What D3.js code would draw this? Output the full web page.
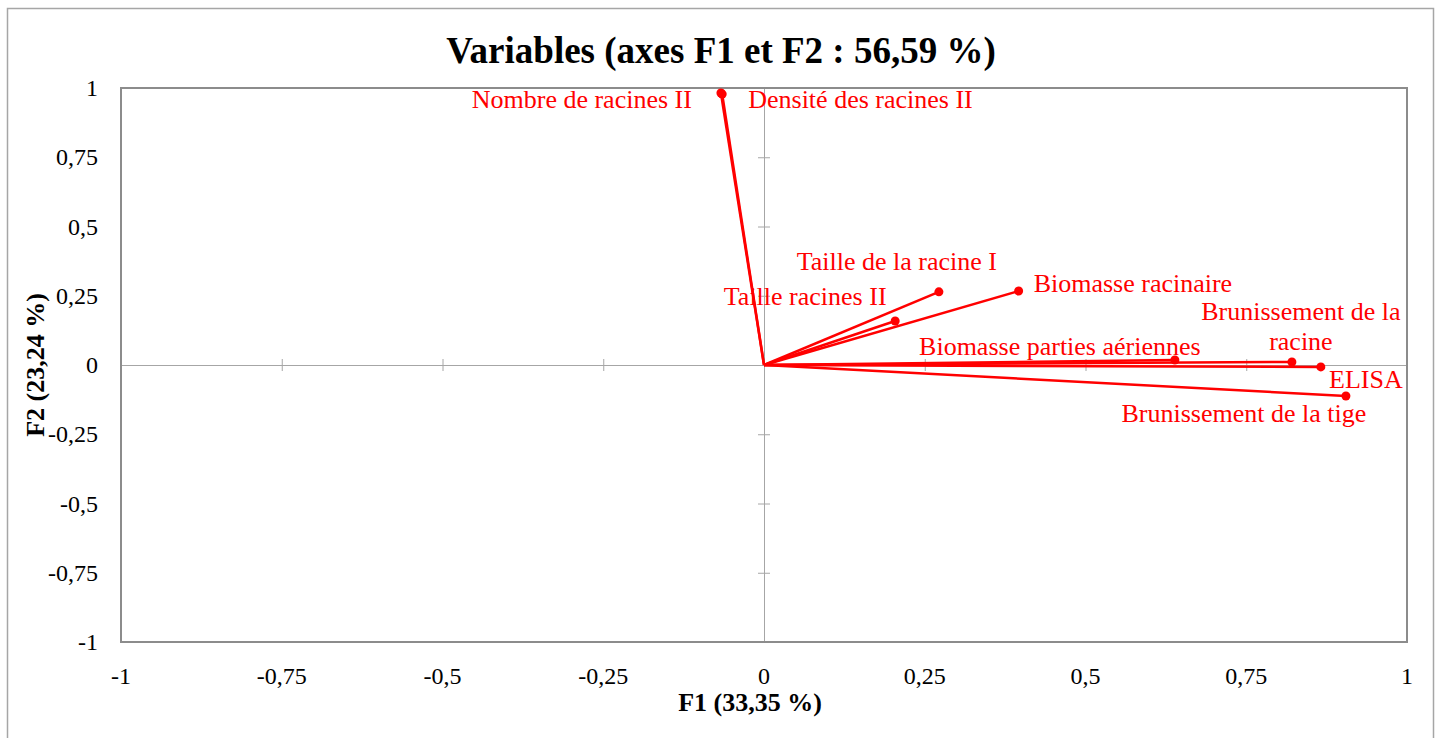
<!DOCTYPE html>
<html>
<head>
<meta charset="utf-8">
<script src="https://cdn.jsdelivr.net/npm/d3@7"></script>
<style>
  body { margin: 0; background: #fff; }
  svg { display: block; font-family: "Liberation Serif", "Times New Roman", serif; }
</style>
</head>
<body>
<svg></svg>
<script>
var width = 1440;
var height = 738;

// variables of the correlation circle
var variables = ['Nombre de racines II', 'Densité des racines II', 'Taille de la racine I',
                 'Biomasse racinaire', 'Taille racines II', 'Biomasse parties aériennes',
                 'Brunissement de la racine', 'ELISA', 'Brunissement de la tige'];
var f1 = [-0.067, -0.065, 0.272, 0.396, 0.204, 0.639, 0.821, 0.866, 0.905];
var f2 = [0.982, 0.978, 0.264, 0.267, 0.159, 0.018, 0.011, -0.007, -0.112];
var ticks = [-1, -0.75, -0.5, -0.25, 0, 0.25, 0.5, 0.75, 1];

// where each label sits relative to its point (text-anchor, dx, dy)
var labelPlace = {
  'Nombre de racines II': ['end', -29, 15],
  'Densité des racines II': ['start', 26, 14],
  'Taille de la racine I': ['middle', -42, -22],
  'Biomasse racinaire': ['start', 15, 1],
  'Taille racines II': ['middle', -90, -16],
  'Biomasse parties aériennes': ['middle', -115, -5],
  'Brunissement de la racine': ['middle', 9, -42],
  'ELISA': ['middle', 45, 21],
  'Brunissement de la tige': ['middle', -102, 26]
};

var svg = d3.select('svg')
            .attr('width', width)
            .attr('height', height);

var x = d3.scaleLinear().domain([-1, 1]).range([121, 1407]);
var y = d3.scaleLinear().domain([-1, 1]).range([642, 88]);

var fmt = function(d) { return String(d).replace('.', ','); };

// outer frame
svg.append('rect')
   .attr('x', 7.5).attr('y', 8.5)
   .attr('width', 1426).attr('height', 750)
   .attr('fill', 'none')
   .attr('stroke', '#a6a6a6')
   .attr('stroke-width', 1.5);

// title
svg.append('text')
   .attr('x', 721).attr('y', 63)
   .attr('text-anchor', 'middle')
   .attr('font-size', 37).attr('font-weight', 'bold')
   .text('Variables (axes F1 et F2 : 56,59 %)');

// zero axes with cross ticks
var xAxis = d3.axisBottom(x).tickValues(ticks).tickSize(0).tickFormat('');
var gx = svg.append('g').attr('transform', 'translate(0,' + y(0) + ')').call(xAxis);
gx.select('.domain').attr('stroke', '#a6a6a6');
gx.selectAll('.tick').append('line')
  .attr('y1', -6).attr('y2', 6).attr('stroke', '#a6a6a6');

var yAxis = d3.axisLeft(y).tickValues(ticks).tickSize(0).tickFormat('');
var gy = svg.append('g').attr('transform', 'translate(' + x(0) + ',0)').call(yAxis);
gy.select('.domain').attr('stroke', '#a6a6a6');
gy.selectAll('.tick').append('line')
  .attr('x1', -6).attr('x2', 6).attr('stroke', '#a6a6a6');

// plot border
svg.append('rect')
   .attr('x', x(-1)).attr('y', y(1))
   .attr('width', x(1) - x(-1)).attr('height', y(-1) - y(1))
   .attr('fill', 'none')
   .attr('stroke', '#8c8c8c')
   .attr('stroke-width', 2);

// tick labels
svg.append('g').selectAll('text')
   .data(ticks).enter().append('text')
   .attr('x', d => x(d)).attr('y', 684)
   .attr('text-anchor', 'middle')
   .attr('font-size', 24)
   .text(fmt);

svg.append('g').selectAll('text')
   .data(ticks).enter().append('text')
   .attr('x', 98).attr('y', d => y(d) + 8)
   .attr('text-anchor', 'end')
   .attr('font-size', 24)
   .text(fmt);

// axis titles
svg.append('text')
   .attr('x', 750).attr('y', 711)
   .attr('text-anchor', 'middle')
   .attr('font-size', 26).attr('font-weight', 'bold')
   .text('F1 (33,35 %)');

svg.append('text')
   .attr('transform', 'translate(44,' + y(0) + ') rotate(-90)')
   .attr('text-anchor', 'middle')
   .attr('font-size', 26).attr('font-weight', 'bold')
   .text('F2 (23,24 %)');

// vectors
var rows = variables.map(function(v, i) { return { name: v, f1: f1[i], f2: f2[i] }; });

svg.append('g').selectAll('line')
   .data(rows).enter().append('line')
   .attr('x1', x(0)).attr('y1', y(0))
   .attr('x2', d => x(d.f1)).attr('y2', d => y(d.f2))
   .attr('stroke', '#ff0000')
   .attr('stroke-width', 2.5);

svg.append('g').selectAll('circle')
   .data(rows).enter().append('circle')
   .attr('cx', d => x(d.f1)).attr('cy', d => y(d.f2))
   .attr('r', 4.5)
   .attr('fill', '#ff0000');

// labels
rows.forEach(function(d) {
  var p = labelPlace[d.name];
  var t = svg.append('text')
             .attr('x', x(d.f1) + p[1])
             .attr('y', y(d.f2) + p[2])
             .attr('text-anchor', p[0])
             .attr('font-size', 26)
             .attr('fill', '#ff0000');
  if (d.name === 'Brunissement de la racine') {
    t.append('tspan').attr('x', x(d.f1) + p[1]).text('Brunissement de la');
    t.append('tspan').attr('x', x(d.f1) + p[1]).attr('dy', 30).text('racine');
  } else {
    t.text(d.name);
  }
});
</script>
</body>
</html>
